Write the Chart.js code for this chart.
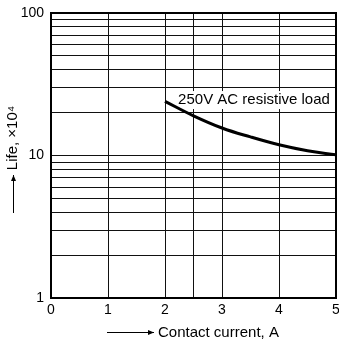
<!DOCTYPE html>
<html>
<head>
<meta charset="utf-8">
<script src="https://cdn.jsdelivr.net/npm/chart.js@4"></script>
<style>
  html, body { margin: 0; padding: 0; background: #fff; }
  #wrap { width: 339px; height: 343px; }
</style>
</head>
<body>
<div id="wrap"><canvas id="lifechart"></canvas></div>
<script>
// curve: contact current (A) vs life (x10^4)
var current = [2, 2.5, 3, 3.5, 4, 4.5, 5];
var life = [24, 19, 15.6, 13.5, 11.9, 10.8, 10.1];
var xTicks = [0, 1, 2, 2.5, 3, 4, 5];
var yTicks = [1, 2, 3, 4, 5, 6, 7, 8, 9, 10, 20, 30, 40, 50, 60, 70, 80, 90, 100];
var yLabels = [1, 10, 100];
var curveLabel = '250V AC resistive load';
var xTitle = 'Contact current, A';
var yTitle = 'Life, \u00d710\u2074';

const FONT = '"Liberation Sans", Arial, Helvetica, sans-serif';

//draw a horizontal or vertical arrow
function arrow(c, x1, y1, x2, y2) {
  c.beginPath();
  c.moveTo(x1, y1);
  c.lineTo(x2, y2);
  c.stroke();
  var ang = Math.atan2(y2 - y1, x2 - x1);
  c.beginPath();
  c.moveTo(x2, y2);
  c.lineTo(x2 - 6 * Math.cos(ang) + 2.5 * Math.sin(ang), y2 - 6 * Math.sin(ang) - 2.5 * Math.cos(ang));
  c.lineTo(x2 - 6 * Math.cos(ang) - 2.5 * Math.sin(ang), y2 - 6 * Math.sin(ang) + 2.5 * Math.cos(ang));
  c.closePath();
  c.fill();
}

const extras = {
  id: 'extras',
  beforeDatasetsDraw(chart) {
    const c = chart.ctx;
    const x = chart.scales.x, y = chart.scales.y;
    // white box behind the curve label
    c.save();
    c.font = '15px ' + FONT;
    var w = c.measureText(curveLabel).width;
    var lx = x.getPixelForValue(2.23), ly = y.getPixelForValue(24.5);
    c.fillStyle = '#fff';
    c.fillRect(lx - 1, ly - 9, w + 3, 18);
    c.fillStyle = '#000';
    c.textBaseline = 'middle';
    c.fillText(curveLabel, lx, ly);
    c.restore();
  },
  afterDraw(chart) {
    const c = chart.ctx;
    const a = chart.chartArea;
    c.save();
    // frame
    c.strokeStyle = '#000';
    c.lineWidth = 2;
    c.strokeRect(a.left, a.top, a.right - a.left, a.bottom - a.top);
    c.font = '15px ' + FONT;
    c.fillStyle = '#000';
    c.lineWidth = 1;
    // x title with arrow
    c.textBaseline = 'middle';
    c.textAlign = 'left';
    c.fillText(xTitle, 158, 333);
    arrow(c, 107, 332.5, 154, 332.5);
    // y title with arrow
    c.save();
    c.translate(13, 138);
    c.rotate(-Math.PI / 2);
    c.textAlign = 'center';
    c.fillText(yTitle, 0, 0);
    c.restore();
    arrow(c, 13.5, 213, 13.5, 175);
    c.restore();
  }
};

new Chart(document.getElementById('lifechart'), {
  type: 'line',
  data: {
    datasets: [{
      data: current.map((v, i) => ({ x: v, y: life[i] })),
      borderColor: '#000',
      borderWidth: 3,
      pointRadius: 0,
      tension: 0.4,
      fill: false
    }]
  },
  options: {
    responsive: true,
    maintainAspectRatio: false,
    animation: false,
    events: [],
    layout: { padding: { left: 0, top: 13, right: 3, bottom: 0 } },
    plugins: { legend: { display: false }, tooltip: { enabled: false } },
    scales: {
      x: {
        type: 'linear',
        min: 0,
        max: 5,
        afterBuildTicks: s => { s.ticks = xTicks.map(v => ({ value: v })); },
        afterFit: s => { s.height = 45; s.paddingLeft = 0; s.paddingRight = 0; },
        ticks: {
          autoSkip: false,
          maxRotation: 0,
          padding: 4,
          color: '#000',
          font: { family: FONT, size: 14 },
          callback: v => Number.isInteger(v) ? String(v) : ''
        },
        grid: { color: '#111', lineWidth: 1, drawTicks: false },
        border: { display: false }
      },
      y: {
        type: 'logarithmic',
        min: 1,
        max: 100,
        afterBuildTicks: s => { s.ticks = yTicks.map(v => ({ value: v })); },
        afterFit: s => { s.width = 51; s.paddingTop = 0; s.paddingBottom = 0; },
        ticks: {
          autoSkip: false,
          padding: 7,
          color: '#000',
          font: { family: FONT, size: 14 },
          callback: v => yLabels.includes(v) ? String(v) : ''
        },
        grid: { color: '#111', lineWidth: 1, drawTicks: false },
        border: { display: false }
      }
    }
  },
  plugins: [extras]
});
</script>
</body>
</html>
